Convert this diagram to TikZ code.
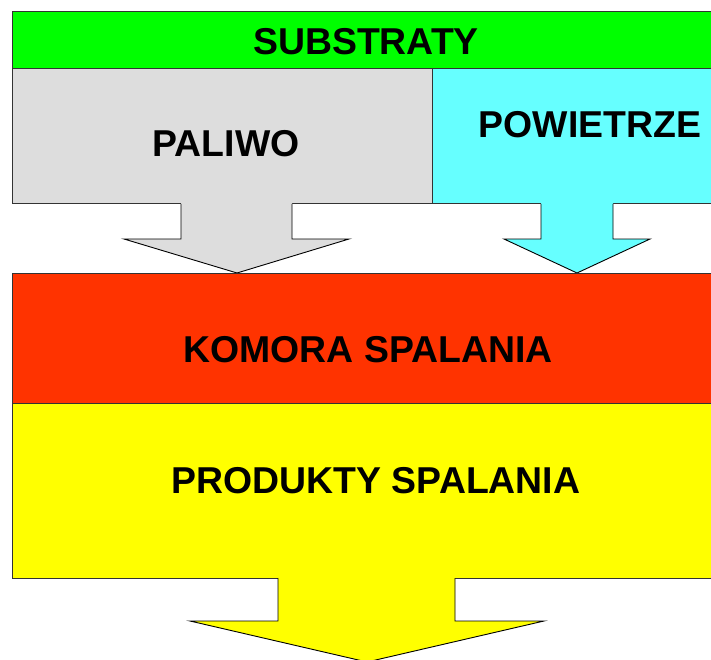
\documentclass[tikz,border=0pt]{standalone}
\usepackage{fontspec}
\setmainfont{Liberation Sans}
\definecolor{cgray}{RGB}{221,221,221}
\definecolor{ccyan}{RGB}{102,255,255}
\definecolor{cgreen}{RGB}{0,255,0}
\definecolor{cred}{RGB}{255,51,0}
\definecolor{cyellow}{RGB}{255,255,0}
\begin{document}
\begin{tikzpicture}[x=1pt,y=-1pt,
  box/.style={draw=black!80,line width=1pt,inner sep=0pt,outer sep=0pt},
  lbl/.style={anchor=base,inner sep=0pt,font=\fontsize{37.4}{40}\selectfont\bfseries},
  arrowline/.style={draw=black,line width=0.9pt,line join=miter}]
\useasboundingbox (0,0) rectangle (711,660);
% boxes
\path[box,fill=cgray] (12,69) rectangle (460,204);
\path[box,fill=ccyan] (432,68) rectangle (720,204);
\draw[black!80,line width=1pt] (432,204) -- (460,204);
\path[box,fill=cgreen] (12,12) rectangle (720,69);
% gray arrow
\fill[cgray] (181,202) -- (181,239) -- (124,239) -- (237,273) -- (349,239) -- (292,239) -- (292,202) -- cycle;
\draw[arrowline] (181,204) -- (181,239) -- (124,239) -- (237,273) -- (349,239) -- (292,239) -- (292,204);
% cyan arrow
\fill[ccyan] (541,202) -- (541,239) -- (504,239) -- (577,273) -- (650,239) -- (613,239) -- (613,202) -- cycle;
\draw[arrowline] (541,204) -- (541,239) -- (504,239) -- (577,273) -- (650,239) -- (613,239) -- (613,204);
% red and yellow boxes
\path[box,fill=cred] (12,273) rectangle (720,403);
\path[box,fill=cyellow] (12,403) rectangle (720,578);
% yellow arrow
\fill[cyellow] (278,576) -- (278,621) -- (190,621) -- (367,662) -- (544,621) -- (455,621) -- (455,576) -- cycle;
\draw[arrowline] (278,578) -- (278,621) -- (190,621) -- (367,662) -- (544,621) -- (455,621) -- (455,578);
% labels
\node[lbl] (substraty) at (366,55) {SUBSTRATY};
\node[lbl] (paliwo) at (226,157) {PALIWO};
\node[lbl] (powietrze) at (590,138) {POWIETRZE};
\node[lbl] (komora) at (368,362) {KOMORA SPALANIA};
\node[lbl] (produkty) at (376,493) {PRODUKTY SPALANIA};
\end{tikzpicture}
\end{document}
